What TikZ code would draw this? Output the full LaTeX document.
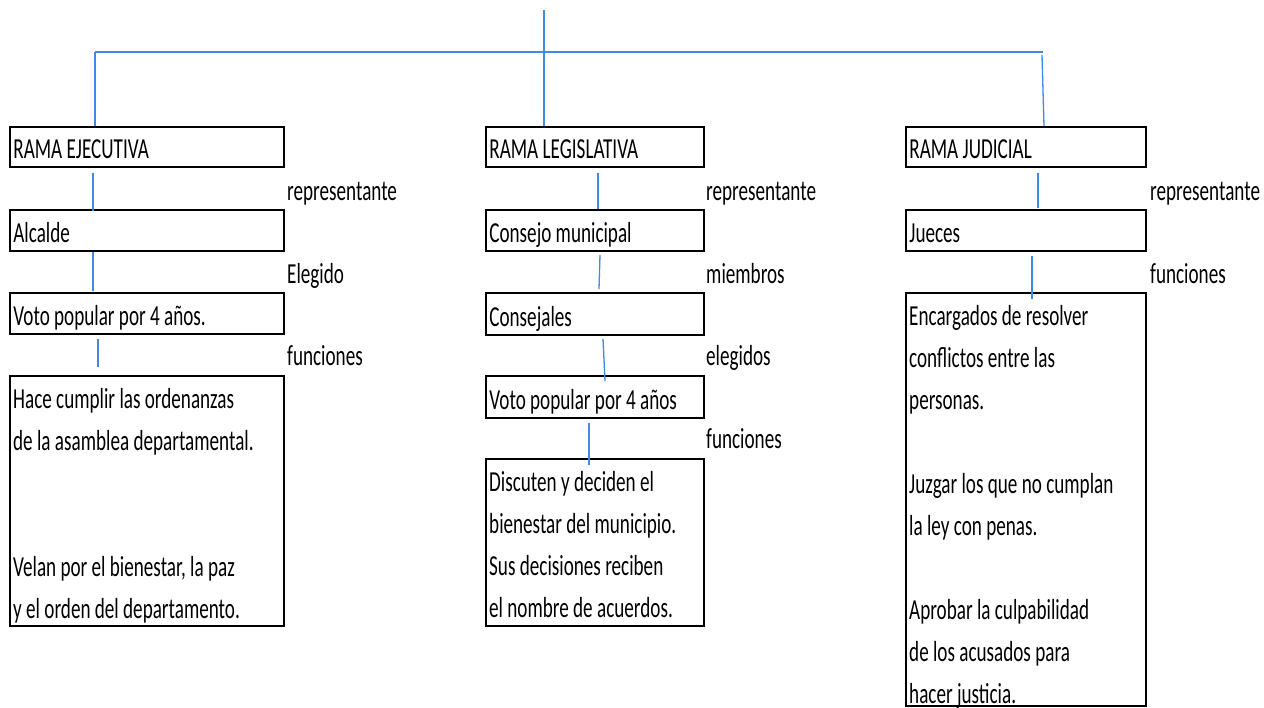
\documentclass[tikz,border=0pt]{standalone}
\usepackage{fontspec}
\setmainfont{Carlito}[FakeStretch=0.66]
\definecolor{lineblue}{RGB}{62,138,228}
\tikzset{
  conn/.style={draw=lineblue, line width=1.3pt},
  trunk/.style={draw=lineblue, line width=2pt},
  onebox/.style={draw=black, line width=1.8pt, anchor=north west, inner xsep=3.5pt, inner ysep=0pt,
    text depth=8pt, align=flush left, font=\fontsize{29}{42}\selectfont},
  bigbox/.style={draw=black, line width=1.8pt, anchor=north west, inner sep=0pt},
  boxtext/.style={anchor=north west, inner sep=0pt, align=left, font=\fontsize{29}{42}\selectfont},
  lbl/.style={anchor=base west, inner sep=0pt, font=\fontsize{29}{42}\selectfont}
}
\begin{document}
\begin{tikzpicture}[x=1pt,y=-1pt]
\useasboundingbox[fill=white] (0,0) rectangle (1264,707);
% ---- left column
\node[onebox, minimum width=274pt, text width=267pt, text height=32pt] (ej) at (9,126) {RAMA EJECUTIVA};
\node[onebox, minimum width=274pt, text width=267pt, text height=33pt] (alc) at (9,209) {Alcalde};
\node[onebox, minimum width=274pt, text width=267pt, text height=33pt] (vot) at (9,292) {Voto popular\ por 4 años.};
\node[bigbox, minimum width=274pt, minimum height=250pt] (fun) at (9,375) {};
\node[boxtext] (funt) at (13,378.6) {\strut Hace cumplir las ordenanzas\\ de la asamblea departamental.\\[84pt] Velan por el bienestar, la paz\\ y el orden del departamento.};
\node[lbl] (l1) at (287,200) {representante};
\node[lbl] (l2) at (287,283) {Elegido};
\node[lbl] (l3) at (287,365) {funciones};
% ---- middle column
\node[onebox, minimum width=218pt, text width=211pt, text height=32pt] (leg) at (485,126) {RAMA LEGISLATIVA};
\node[onebox, minimum width=218pt, text width=211pt, text height=33pt] (con) at (485,209) {Consejo municipal};
\node[onebox, minimum width=218pt, text width=211pt, text height=34pt] (cjs) at (485,292) {Consejales};
\node[onebox, minimum width=218pt, text width=211pt, text height=34pt] (vot2) at (485,375) {Voto popular por 4 años};
\node[bigbox, minimum width=218pt, minimum height=167pt] (dis) at (485,458) {};
\node[boxtext] (dist) at (489,461.6) {\strut Discuten y deciden el\\ bienestar del municipio.\\ Sus decisiones reciben\\ el nombre de acuerdos.};
\node[lbl] (m1) at (706,200) {representante};
\node[lbl] (m2) at (706,283) {miembros};
\node[lbl] (m3) at (706,365) {elegidos};
\node[lbl] (m4) at (706,448) {funciones};
% ---- right column
\node[onebox, minimum width=240pt, text width=233pt, text height=32pt] (jud) at (905,126) {RAMA JUDICIAL};
\node[onebox, minimum width=240pt, text width=233pt, text height=33pt] (jue) at (905,209) {Jueces};
\node[bigbox, minimum width=240pt, minimum height=413pt] (fj) at (905,292) {};
\node[boxtext] (fjt) at (909,295.6) {\strut Encargados de resolver\\ conflictos entre las\\ personas.\\[42pt] Juzgar los que no cumplan\\ la ley con penas.\\[42pt] Aprobar la culpabilidad\\ de los acusados para\\ hacer justicia.};
\node[lbl] (r1) at (1150,200) {representante};
\node[lbl] (r2) at (1150,283) {funciones};
% ---- top tree
\coordinate (top) at (544,10);
\coordinate (hl) at (95,52);
\coordinate (hr) at (1043,52);
\coordinate (hr2) at (1042,55);
\draw[trunk] (hl) -- (hr);
\draw[conn] (top) -- ([xshift=59pt]leg.north west);
\draw[conn] (hl) -- ([xshift=86pt]ej.north west);
\draw[conn] (hr2) -- ([xshift=139pt]jud.north west);
% ---- connectors left
\draw[conn] ([xshift=84pt,yshift=-5pt]ej.south west) -- ([xshift=84pt,yshift=-2pt]alc.north west);
\draw[conn] ([xshift=84pt]alc.south west) -- ([xshift=84pt,yshift=1pt]vot.north west);
\draw[conn] ([xshift=89pt,yshift=-4pt]vot.south west) -- ([xshift=89pt,yshift=8pt]fun.north west);
% ---- connectors middle
\draw[conn] ([xshift=113pt,yshift=-5pt]leg.south west) -- ([xshift=113pt]con.north west);
\draw[conn] ([xshift=115pt,yshift=-3pt]con.south west) -- ([xshift=114pt,yshift=3pt]cjs.north west);
\draw[conn] ([xshift=118pt,yshift=-3pt]cjs.south west) -- ([xshift=120pt,yshift=-6pt]vot2.north west);
\draw[conn] ([xshift=104pt,yshift=-4pt]vot2.south west) -- ([xshift=104pt,yshift=-7pt]dis.north west);
% ---- connectors right
\draw[conn] ([xshift=133pt,yshift=-5pt]jud.south west) -- ([xshift=133pt,yshift=1pt]jue.north west);
\draw[conn] ([xshift=127pt,yshift=-4pt]jue.south west) -- ([xshift=127pt,yshift=-7pt]fj.north west);
\end{tikzpicture}
\end{document}
